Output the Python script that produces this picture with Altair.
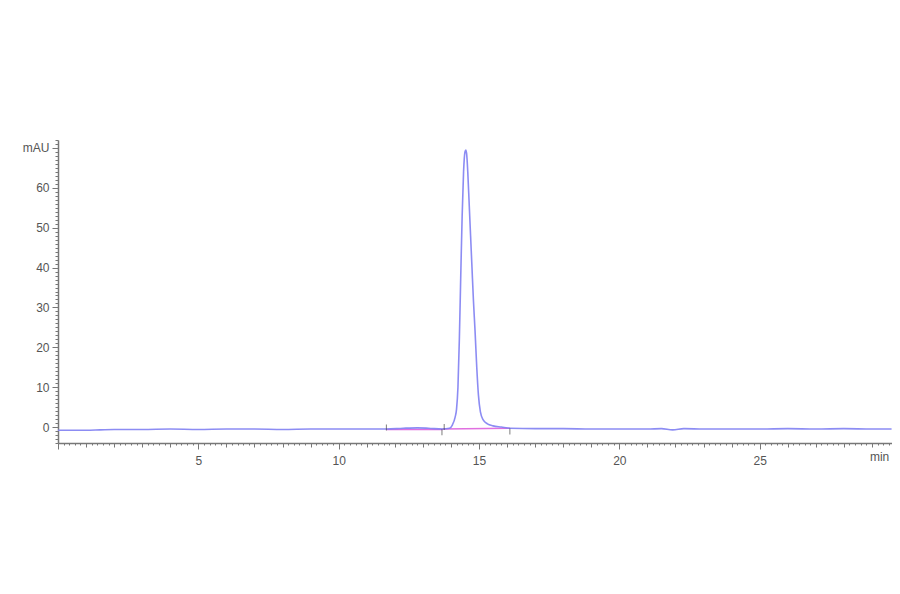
import altair as alt
import pandas as pd

# Chromatogram trace (time in min, signal in mAU)
time_min = [0.0, 0.5, 1.0, 1.5, 2.0, 3.0, 4.0, 5.0, 6.0, 7.0, 8.0, 9.0, 10.0, 11.0,
            11.7, 12.3, 12.8, 13.2, 13.7, 13.95, 14.05, 14.15, 14.2, 14.25, 14.3,
            14.35, 14.4, 14.45, 14.5, 14.53, 14.56, 14.6, 14.65, 14.7, 14.75, 14.8,
            14.86, 14.92, 14.98, 15.05, 15.15, 15.3, 15.5, 15.8, 16.1, 17.0, 18.0,
            19.0, 20.0, 21.0, 21.5, 21.9, 22.3, 23.0, 24.0, 25.0, 26.0, 27.0, 28.0,
            29.0, 29.7]
signal_mau = [-0.8, -0.8, -0.8, -0.7, -0.6, -0.6, -0.5, -0.6, -0.5, -0.5, -0.6, -0.5,
              -0.5, -0.5, -0.5, -0.3, -0.2, -0.3, -0.5, -0.3, 0.5, 2.5, 4.5, 10.0,
              22.0, 38.0, 53.0, 64.0, 69.0, 69.5, 68.5, 64.0, 56.0, 48.0, 40.0, 32.0,
              24.0, 15.0, 8.0, 3.8, 1.8, 0.8, 0.3, 0.0, -0.3, -0.4, -0.4, -0.5, -0.5,
              -0.5, -0.4, -0.7, -0.4, -0.5, -0.5, -0.5, -0.4, -0.5, -0.4, -0.5, -0.5]

# Integration baseline segments
base_t = [11.7, 13.7, 13.7, 16.1]
base_v = [-0.6, -0.6, -0.5, -0.3]
base_seg = ["a", "a", "b", "b"]

# Peak start / end markers
mark_t = [11.7, 13.68, 13.76, 16.1]
mark_v = [-0.1, -1.3, 0.0, -1.1]

x_ticks = [round(i * 0.2, 1) for i in range(149)]
y_ticks = list(range(-4, 73))

trace = pd.DataFrame({"t": time_min, "v": signal_mau})
base = pd.DataFrame({"t": base_t, "v": base_v, "seg": base_seg})
marks = pd.DataFrame({"t": mark_t, "v": mark_v})

xscale = alt.Scale(domain=[0, 29.715], nice=False, zero=False)
yscale = alt.Scale(domain=[-4, 72], nice=False, zero=False)

xaxis = alt.Axis(
    values=x_ticks,
    tickCount=1000,
    title=None,
    grid=False,
    labelExpr="abs(datum.value - 29.6) < 0.01 ? 'min' : (abs(datum.value - round(datum.value)) < 0.01 && round(datum.value) % 5 == 0 && round(datum.value) > 0 ? format(round(datum.value), 'd') : '')",
    labelOverlap=False,
    labelFlush=False,
    labelAlign={"condition": {"test": "abs(datum.value - 29.6) < 0.01", "value": "right"}, "value": "center"},
    tickSize={"condition": [
        {"test": "abs(datum.value - round(datum.value)) < 0.01 && round(datum.value) % 5 == 0", "value": 6},
        {"test": "abs(datum.value - round(datum.value)) < 0.01", "value": 4}],
        "value": 2},
    tickColor="#777777",
    domainColor="#777777",
    domainWidth=1.5,
    labelColor="#555555",
    labelFont="Liberation Sans",
    labelFontSize=12,
    labelPadding=6,
)
yaxis = alt.Axis(
    values=y_ticks,
    tickCount=1000,
    title=None,
    grid=False,
    labelExpr="datum.value == 70 ? 'mAU' : (datum.value % 10 == 0 && datum.value >= 0 ? format(datum.value, 'd') : '')",
    labelOverlap=False,
    labelFlush=False,
    tickSize={"condition": {"test": "datum.value % 10 == 0", "value": 6}, "value": 3},
    tickColor="#777777",
    domainColor="#777777",
    domainWidth=1.5,
    labelColor="#555555",
    labelFont="Liberation Sans",
    labelFontSize=12,
    labelPadding=3,
)

baseline = alt.Chart(base).mark_line(color="#e070e0", strokeWidth=1.5).encode(
    x=alt.X("t:Q", scale=xscale, axis=xaxis),
    y=alt.Y("v:Q", scale=yscale, axis=yaxis),
    detail="seg:N",
)

line = alt.Chart(trace).mark_line(color="#7f7ff2", strokeWidth=1.6, opacity=0.9,
                                   interpolate="monotone").encode(
    x=alt.X("t:Q", scale=xscale),
    y=alt.Y("v:Q", scale=yscale),
)

ticks = alt.Chart(marks).mark_tick(color="#444444", orient="vertical", size=6,
                                   thickness=1).encode(
    x=alt.X("t:Q", scale=xscale),
    y=alt.Y("v:Q", scale=yscale),
)

chart = alt.layer(baseline, line, ticks).properties(
    width=834,
    height=303,
    autosize=alt.AutoSizeParams(type="none"),
    padding={"left": 50, "top": 132, "right": 0, "bottom": 50},
    background="white",
).configure_view(strokeWidth=0)

chart.save("out.html", embed_options={"renderer": "svg", "actions": False})
